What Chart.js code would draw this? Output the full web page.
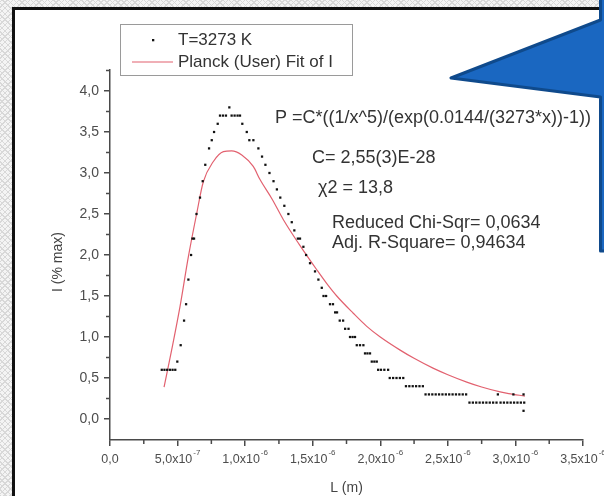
<!DOCTYPE html>
<html>
<head>
<meta charset="utf-8">
<script src="https://cdn.jsdelivr.net/npm/chart.js@4.4.1/dist/chart.umd.min.js"></script>
<style>
html, body { margin: 0; padding: 0; }
body {
  width: 604px; height: 496px; overflow: hidden; position: relative;
  background-color: #f4f4f4;
  background-image:
    repeating-linear-gradient(45deg, #d8d8d8 0 1px, transparent 1px 4px),
    repeating-linear-gradient(-45deg, #d8d8d8 0 1px, transparent 1px 4px);
}
#blatt {
  position: absolute; left: 12px; top: 7px; right: 0; bottom: 0;
  background: #fff; border-left: 3px solid #111; border-top: 3px solid #111;
}
#plot { position: absolute; left: 0; top: 0; }
</style>
</head>
<body>
<div id="blatt"></div>
<canvas id="plot" width="604" height="496"></canvas>
<script>
// Messpunkte T=3273 K: Wellenlaenge in 1e-6 m, Intensitaet in % max
const lambdaMess = [
  0.383, 0.403, 0.423, 0.443, 0.463, 0.483, 0.498, 0.523, 0.548, 0.563,
  0.580, 0.600, 0.610, 0.622, 0.640, 0.666, 0.686, 0.705, 0.733, 0.753,
  0.770, 0.797, 0.814, 0.836, 0.858, 0.883, 0.900, 0.922, 0.944, 0.962,
  0.979, 1.012, 1.031, 1.061, 1.098, 1.125, 1.150, 1.180, 1.210, 1.235,
  1.260, 1.290, 1.320, 1.345, 1.364, 1.390, 1.406, 1.431, 1.451, 1.480,
  1.517, 1.542, 1.567, 1.580, 1.599, 1.628, 1.650, 1.666, 1.680, 1.700,
  1.725, 1.740, 1.765, 1.776, 1.795, 1.813, 1.826, 1.850, 1.875, 1.887,
  1.905, 1.924, 1.937, 1.956, 1.974, 1.984, 2.005, 2.030, 2.058, 2.070,
  2.095, 2.120, 2.145, 2.170, 2.190, 2.215, 2.240, 2.265, 2.290, 2.315,
  2.335, 2.360, 2.385, 2.410, 2.435, 2.460, 2.485, 2.510, 2.535, 2.560,
  2.585, 2.610, 2.635, 2.660, 2.685, 2.710, 2.735, 2.760, 2.785, 2.810,
  2.835, 2.860, 2.870, 2.890, 2.915, 2.940, 2.965, 2.985, 2.990, 3.015,
  3.040, 3.060, 3.065, 3.060
];
const intensMess = [
  0.6, 0.6, 0.6, 0.6, 0.6, 0.6, 0.7, 0.9, 1.2, 1.4,
  1.7, 2.0, 2.2, 2.2, 2.5, 2.7, 2.9, 3.1, 3.3, 3.4,
  3.5, 3.6, 3.7, 3.7, 3.7, 3.8, 3.7, 3.7, 3.7, 3.7,
  3.6, 3.5, 3.4, 3.4, 3.3, 3.2, 3.1, 3.0, 2.9, 2.8,
  2.7, 2.6, 2.5, 2.4, 2.3, 2.2, 2.2, 2.1, 2.0, 1.9,
  1.8, 1.7, 1.6, 1.5, 1.5, 1.4, 1.4, 1.3, 1.3, 1.2,
  1.2, 1.1, 1.1, 1.0, 1.0, 1.0, 0.9, 0.9, 0.9, 0.8,
  0.8, 0.8, 0.7, 0.7, 0.7, 0.6, 0.6, 0.6, 0.6, 0.5,
  0.5, 0.5, 0.5, 0.5, 0.4, 0.4, 0.4, 0.4, 0.4, 0.4,
  0.3, 0.3, 0.3, 0.3, 0.3, 0.3, 0.3, 0.3, 0.3, 0.3,
  0.3, 0.3, 0.3, 0.2, 0.2, 0.2, 0.2, 0.2, 0.2, 0.2,
  0.2, 0.2, 0.3, 0.2, 0.2, 0.2, 0.2, 0.3, 0.2, 0.2,
  0.2, 0.3, 0.2, 0.1
];

// Planck-Fit
const lambdaFit = [0.400, 0.456, 0.518, 0.580, 0.642, 0.690, 0.765, 0.839, 0.900, 0.975,
  1.060, 1.110, 1.200, 1.283, 1.400, 1.530, 1.600, 1.678, 1.800, 1.900,
  2.000, 2.147, 2.250, 2.390, 2.500, 2.640, 2.750, 2.887, 2.950, 3.070];
const intensFit = [0.39, 0.84, 1.37, 1.98, 2.51, 2.89, 3.14, 3.26, 3.27, 3.22,
  3.08, 2.92, 2.68, 2.43, 2.13, 1.82, 1.66, 1.50, 1.29, 1.13,
  1.00, 0.84, 0.74, 0.62, 0.54, 0.45, 0.39, 0.33, 0.31, 0.28];

const xTickWerte = [0, 0.5, 1.0, 1.5, 2.0, 2.5, 3.0, 3.5];
const xTickBasis = ["0,0", "5,0x10", "1,0x10", "1,5x10", "2,0x10", "2,5x10", "3,0x10", "3,5x10"];
const xTickExp = ["", "-7", "-6", "-6", "-6", "-6", "-6", "-6"];
const yTickLabels = ["0,0", "0,5", "1,0", "1,5", "2,0", "2,5", "3,0", "3,5", "4,0"];

const schrift = '"Liberation Sans", Arial, sans-serif';
const achsenFarbe = '#4a4a4a';
const fitFarbe = '#e2616f';

const messPunkte = lambdaMess.map((l, i) => ({ x: l, y: intensMess[i] }));
const fitPunkte = lambdaFit.map((l, i) => ({ x: l, y: intensFit[i] }));

function linie(ctx, x1, y1, x2, y2) {
  ctx.beginPath();
  ctx.moveTo(x1, y1);
  ctx.lineTo(x2, y2);
  ctx.stroke();
}

const zusatz = {
  id: 'zusatz',
  afterDraw(chart) {
    const { ctx, scales: { x, y } } = chart;
    const unten = chart.chartArea.bottom;
    const links = chart.chartArea.left;
    ctx.save();

    // Nebenstriche
    ctx.strokeStyle = achsenFarbe;
    ctx.lineWidth = 1.5;
    for (let i = 0; i < xTickWerte.length - 1; i++) {
      const px = x.getPixelForValue((xTickWerte[i] + xTickWerte[i + 1]) / 2);
      linie(ctx, px, unten, px, unten + 4);
    }
    for (let i = 0; i < yTickLabels.length; i++) {
      const py = y.getPixelForValue(i * 0.5 + 0.25);
      linie(ctx, links - 4, py, links, py);
    }

    // x-Beschriftung mit Exponent
    ctx.fillStyle = '#4d4d4d';
    ctx.textBaseline = 'middle';
    xTickWerte.forEach((v, i) => {
      ctx.font = `12.5px ${schrift}`;
      const wb = ctx.measureText(xTickBasis[i]).width;
      ctx.font = `8px ${schrift}`;
      const we = xTickExp[i] ? ctx.measureText(xTickExp[i]).width + 1 : 0;
      const start = x.getPixelForValue(v) - (wb + we) / 2;
      ctx.textAlign = 'left';
      ctx.font = `12.5px ${schrift}`;
      ctx.fillText(xTickBasis[i], start, 460);
      if (xTickExp[i]) {
        ctx.font = `8px ${schrift}`;
        ctx.fillText(xTickExp[i], start + wb + 1, 453);
      }
    });

    // Achsentitel
    ctx.fillStyle = '#444';
    ctx.font = `14px ${schrift}`;
    ctx.textAlign = 'center';
    ctx.fillText('L (m)', (x.left + x.right) / 2, 488);
    ctx.save();
    ctx.translate(58, 262);
    ctx.rotate(-Math.PI / 2);
    ctx.fillText('I (% max)', 0, 0);
    ctx.restore();

    // Legende
    ctx.strokeStyle = '#9a9a9a';
    ctx.lineWidth = 1;
    ctx.strokeRect(120.5, 24.5, 232, 51);
    ctx.fillStyle = '#111';
    ctx.fillRect(152, 39, 2.3, 2.3);
    ctx.strokeStyle = fitFarbe;
    ctx.lineWidth = 1.2;
    linie(ctx, 132, 62, 173, 62);
    ctx.fillStyle = '#333';
    ctx.font = `17px ${schrift}`;
    ctx.textAlign = 'left';
    ctx.fillText('T=3273 K', 178, 40);
    ctx.fillText('Planck (User) Fit of I', 178, 62);

    // Fit-Ergebnisse
    ctx.font = `18px ${schrift}`;
    ctx.textAlign = 'right';
    ctx.fillText('P =C*((1/x^5)/(exp(0.0144/(3273*x))-1))', 591, 118);
    ctx.textAlign = 'left';
    ctx.fillText('C= 2,55(3)E-28', 312, 158);
    ctx.fillText('\u03c72 = 13,8', 318, 188);
    ctx.fillText('Reduced Chi-Sqr= 0,0634', 332, 223);
    ctx.fillText('Adj. R-Square= 0,94634', 332, 243);

    // blaue Sprechblase rechts
    ctx.beginPath();
    ctx.moveTo(600.5, -5);
    ctx.lineTo(600.5, 20);
    ctx.lineTo(451, 78);
    ctx.lineTo(600.5, 97);
    ctx.lineTo(600.5, 251);
    ctx.lineTo(615, 251);
    ctx.lineTo(615, -5);
    ctx.closePath();
    ctx.fillStyle = '#1a67c1';
    ctx.fill();
    ctx.strokeStyle = '#0f4a8c';
    ctx.lineWidth = 3;
    ctx.lineJoin = 'round';
    ctx.stroke();

    ctx.restore();
  }
};

new Chart(document.getElementById('plot'), {
  type: 'scatter',
  data: {
    datasets: [
      {
        label: 'T=3273 K',
        data: messPunkte,
        pointStyle: 'rect',
        pointRadius: 1.6,
        pointBorderWidth: 0,
        backgroundColor: '#111',
        showLine: false
      },
      {
        label: 'Planck (User) Fit of I',
        data: fitPunkte,
        showLine: true,
        pointRadius: 0,
        borderColor: fitFarbe,
        borderWidth: 1.2,
        cubicInterpolationMode: 'monotone'
      }
    ]
  },
  options: {
    responsive: false,
    animation: false,
    devicePixelRatio: 1,
    layout: { padding: { top: 70, right: 21, left: 0, bottom: 0 } },
    plugins: { legend: { display: false }, tooltip: { enabled: false } },
    scales: {
      x: {
        type: 'linear',
        min: 0,
        max: 3.5,
        afterFit: (s) => { s.height = 56; s.paddingLeft = 0; s.paddingRight = 0; },
        border: { display: true, color: achsenFarbe, width: 1.5 },
        grid: { drawOnChartArea: false, drawTicks: true, tickLength: 6, color: achsenFarbe, lineWidth: 1.5 },
        ticks: { stepSize: 0.5, display: false }
      },
      y: {
        min: -0.256,
        max: 4.256,
        afterFit: (s) => { s.width = 110; },
        border: { display: true, color: achsenFarbe, width: 1.5 },
        grid: { drawOnChartArea: false, drawTicks: true, tickLength: 6, color: achsenFarbe, lineWidth: 1.5 },
        ticks: {
          stepSize: 0.5,
          includeBounds: false,
          padding: 5,
          color: '#4d4d4d',
          font: { family: schrift, size: 14 },
          callback: (v) => yTickLabels[Math.round(v / 0.5)]
        }
      }
    }
  },
  plugins: [zusatz]
});
</script>
</body>
</html>
